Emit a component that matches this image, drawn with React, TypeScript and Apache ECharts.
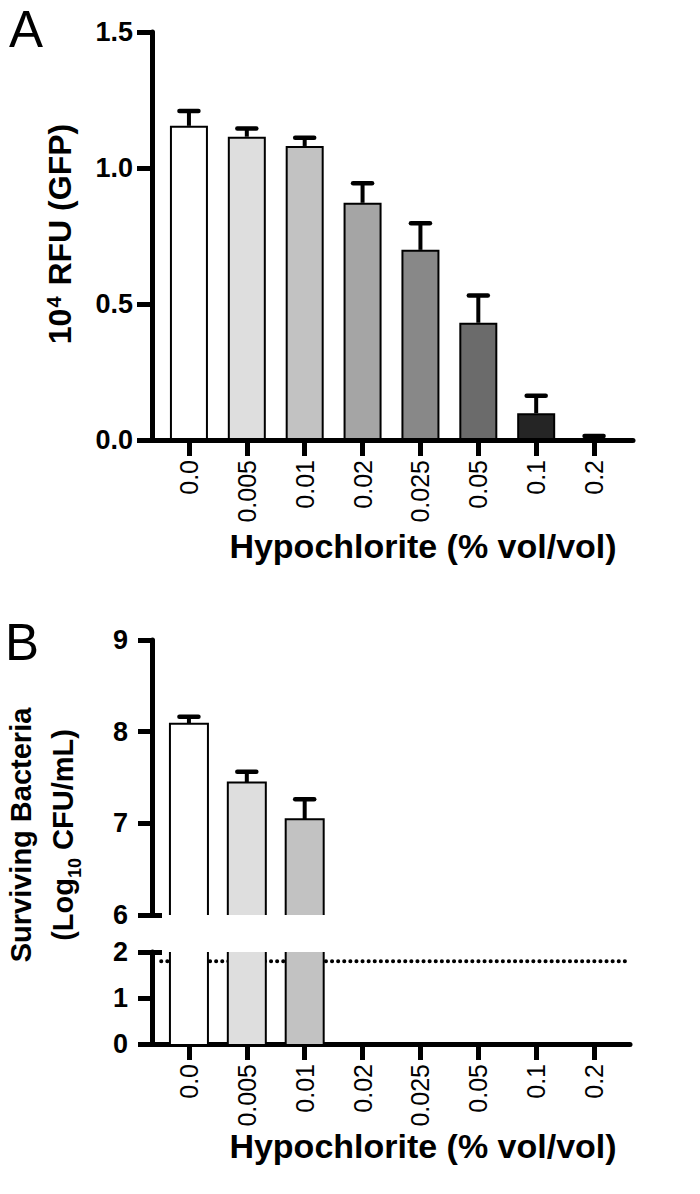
import React, { useEffect, useRef } from "react";
import * as echarts from "echarts";

// ---------- data ----------
const categories = ["0.0", "0.005", "0.01", "0.02", "0.025", "0.05", "0.1", "0.2"];
const gfpMean = [1.155, 1.115, 1.081, 0.872, 0.699, 0.431, 0.098, 0.004];
const gfpErr = [0.055, 0.03, 0.03, 0.072, 0.098, 0.1, 0.065, 0.011];
const cfuMean: (number | null)[] = [8.087, 7.446, 7.044, null, null, null, null, null];
const cfuErr: (number | null)[] = [0.075, 0.117, 0.22, null, null, null, null, null];
const detectionLimit = 1.8;
const barColors = ["#ffffff", "#dedede", "#c2c2c2", "#a5a5a5", "#888888", "#6b6b6b", "#252525", "#111111"];
const gfpAxis = { min: 0, max: 1.5, interval: 0.5 };
const cfuUpperAxis = { min: 6, max: 9, interval: 1 };
const cfuLowerAxis = { min: 0, max: 2, interval: 1 };

const FONT = "'Liberation Sans', Arial, Helvetica, sans-serif";
const BAR_HALF = 19;

const errorBarItem = (params: any, api: any) => {
  const i = api.value(0);
  const m = api.value(1);
  const e = api.value(2);
  const base = api.coord([i, m]);
  const top = api.coord([i, m + e]);
  return {
    type: "group",
    children: [
      { type: "line", shape: { x1: base[0], y1: base[1], x2: top[0], y2: top[1] }, style: { stroke: "#000", lineWidth: 4 } },
      {
        type: "line",
        shape: { x1: top[0] - 9.5, y1: top[1], x2: top[0] + 9.5, y2: top[1] },
        style: { stroke: "#000", lineWidth: 4.5, lineCap: "round" },
      },
    ],
  };
};

// bar of a broken axis segment: open where it crosses the segment's edge
const segmentBarItem = (lo: number, hi: number) => (params: any, api: any) => {
  const i = api.value(0);
  const v = api.value(1);
  const idx = params.dataIndex;
  const vTop = Math.min(v, hi);
  const pTop = api.coord([i, vTop]);
  const pBot = api.coord([i, lo]);
  const x0 = pTop[0] - BAR_HALF;
  const x1 = pTop[0] + BAR_HALF;
  const children: any[] = [
    {
      type: "rect",
      shape: { x: x0, y: pTop[1], width: BAR_HALF * 2, height: pBot[1] - pTop[1] },
      style: { fill: barColors[i] ?? barColors[idx], stroke: "none" },
    },
  ];
  if (v <= hi) {
    children.push({
      type: "polyline",
      shape: { points: [[x0, pBot[1]], [x0, pTop[1]], [x1, pTop[1]], [x1, pBot[1]]] },
      style: { stroke: "#000", lineWidth: 2, fill: "none" },
    });
  } else {
    children.push(
      { type: "line", shape: { x1: x0, y1: pTop[1], x2: x0, y2: pBot[1] }, style: { stroke: "#000", lineWidth: 2 } },
      { type: "line", shape: { x1: x1, y1: pTop[1], x2: x1, y2: pBot[1] }, style: { stroke: "#000", lineWidth: 2 } }
    );
  }
  return { type: "group", children };
};

const catAxisShown = (gridIndex: number) => ({
  type: "category",
  gridIndex,
  data: categories,
  boundaryGap: true,
  axisLine: { show: false },
  axisTick: { show: true, alignWithLabel: true, length: 16, lineStyle: { color: "#000", width: 5 } },
  axisLabel: { interval: 0, rotate: 90, margin: 20, fontSize: 25, color: "#000", fontFamily: FONT },
  splitLine: { show: false },
});

const frameXAxis = (gridIndex: number) => ({
  type: "value",
  gridIndex,
  min: 0,
  max: 1,
  axisLine: { show: true, onZero: false, lineStyle: { color: "#000", width: 5 } },
  axisTick: { show: false },
  axisLabel: { show: false },
  splitLine: { show: false },
});

const valueY = (gridIndex: number, r: any, fmt: (v: number) => string, margin: number, tickLen: number) => ({
  type: "value",
  gridIndex,
  position: "left",
  min: r.min,
  max: r.max,
  interval: r.interval,
  offset: 8,
  axisLine: { show: true, onZero: false, lineStyle: { color: "#000", width: 5 } },
  axisTick: { show: true, length: tickLen, lineStyle: { color: "#000", width: 5 } },
  axisLabel: { formatter: fmt, margin, fontSize: 27, fontWeight: "bold", color: "#000", fontFamily: FONT },
  splitLine: { show: false },
});

const breakTickY = (gridIndex: number, r: any, at: number) => ({
  type: "value",
  gridIndex,
  position: "left",
  min: r.min,
  max: r.max,
  offset: 8,
  axisLine: { show: false },
  axisTick: { show: true, inside: true, length: 10, customValues: [at], lineStyle: { color: "#000", width: 5 } },
  axisLabel: { show: false },
  splitLine: { show: false },
});

export default function App() {
  const ref = useRef<HTMLDivElement>(null);
  useEffect(() => {
    if (!ref.current) return;
    const chart = echarts.init(ref.current, undefined, { renderer: "svg" });
    const cfuValid = cfuMean
      .map((m, i) => (m == null ? null : [i, m, cfuErr[i]]))
      .filter((d) => d != null) as number[][];

    chart.setOption({
      animation: false,
      backgroundColor: "#ffffff",
      textStyle: { fontFamily: FONT },
      grid: [
        { left: 160, width: 463, top: 32, height: 408 },
        { left: 150, width: 483, top: 32, height: 408 },
        { left: 160, width: 463, top: 640, height: 275 },
        { left: 160, width: 463, top: 952, height: 92 },
        { left: 150, width: 480, top: 952, height: 92 },
      ],
      xAxis: [
        catAxisShown(0),
        frameXAxis(1),
        { type: "category", gridIndex: 2, data: categories, show: false },
        catAxisShown(3),
        frameXAxis(4),
      ],
      yAxis: [
        valueY(0, gfpAxis, (v: number) => v.toFixed(1), 19, 15),
        { type: "value", gridIndex: 1, min: 0, max: 1, show: false, splitLine: { show: false } },
        valueY(2, cfuUpperAxis, (v: number) => String(v), 24, 14),
        valueY(3, cfuLowerAxis, (v: number) => String(v), 24, 14),
        { type: "value", gridIndex: 4, min: 0, max: 2, show: false, splitLine: { show: false } },
        breakTickY(2, cfuUpperAxis, cfuUpperAxis.min),
        breakTickY(3, cfuLowerAxis, cfuLowerAxis.max),
      ],
      series: [
        {
          type: "bar",
          xAxisIndex: 0,
          yAxisIndex: 0,
          barWidth: 38,
          z: 3,
          data: gfpMean.map((v, i) => ({ value: v, itemStyle: { color: barColors[i] } })),
          itemStyle: { borderColor: "#000", borderWidth: 2 },
        },
        {
          type: "custom",
          xAxisIndex: 0,
          yAxisIndex: 0,
          z: 4,
          renderItem: errorBarItem,
          encode: { x: 0, y: 1 },
          data: gfpMean.map((m, i) => [i, m, gfpErr[i]]),
        },
        {
          type: "line",
          xAxisIndex: 4,
          yAxisIndex: 4,
          z: 1,
          showSymbol: false,
          symbol: "none",
          lineStyle: { color: "#000", width: 4, type: [0.1, 6], dashOffset: -4, cap: "round" },
          data: [
            [0.015, detectionLimit],
            [1, detectionLimit],
          ],
        },
        {
          type: "custom",
          xAxisIndex: 2,
          yAxisIndex: 2,
          z: 3,
          renderItem: segmentBarItem(cfuUpperAxis.min, cfuUpperAxis.max),
          encode: { x: 0, y: 1 },
          data: cfuValid.map((d) => [d[0], d[1]]),
        },
        {
          type: "custom",
          xAxisIndex: 2,
          yAxisIndex: 2,
          z: 4,
          renderItem: errorBarItem,
          encode: { x: 0, y: 1 },
          data: cfuValid,
        },
        {
          type: "custom",
          xAxisIndex: 3,
          yAxisIndex: 3,
          z: 3,
          renderItem: segmentBarItem(cfuLowerAxis.min, cfuLowerAxis.max),
          encode: { x: 0, y: 1 },
          data: cfuValid.map((d) => [d[0], d[1]]),
        },
      ],
      graphic: [
        {
          type: "text",
          x: 9,
          y: 29,
          style: { text: "A", fontSize: 51, fontFamily: FONT, fill: "#000", align: "left", verticalAlign: "middle", textAlign: "left", textVerticalAlign: "middle" },
        },
        {
          type: "text",
          x: 5,
          y: 642,
          style: { text: "B", fontSize: 51, fontFamily: FONT, fill: "#000", align: "left", verticalAlign: "middle", textAlign: "left", textVerticalAlign: "middle" },
        },
        {
          type: "text",
          x: 423,
          y: 546,
          style: { text: "Hypochlorite (% vol/vol)", fontSize: 34, fontWeight: "bold", fontFamily: FONT, fill: "#000", align: "center", verticalAlign: "middle", textAlign: "center", textVerticalAlign: "middle" },
        },
        {
          type: "text",
          x: 423,
          y: 1146,
          style: { text: "Hypochlorite (% vol/vol)", fontSize: 34, fontWeight: "bold", fontFamily: FONT, fill: "#000", align: "center", verticalAlign: "middle", textAlign: "center", textVerticalAlign: "middle" },
        },
        {
          type: "text",
          x: 60,
          y: 234,
          rotation: Math.PI / 2,
          style: {
            text: "10{sup|4} RFU (GFP)",
            fontSize: 32,
            fontWeight: "bold",
            fontFamily: FONT,
            fill: "#000",
            align: "center",
            verticalAlign: "middle",
            textAlign: "center",
            textVerticalAlign: "middle",
            rich: {
              sup: { fontSize: 20, fontWeight: "bold", fontFamily: FONT, fill: "#000", verticalAlign: "top", padding: [0, 2, 0, 1] },
            },
          },
        },
        {
          type: "text",
          x: 42,
          y: 835,
          rotation: Math.PI / 2,
          style: {
            text: "{t|Surviving Bacteria}\n{t|(Log}{sub|10}{t| CFU/mL)}",
            fontSize: 29,
            fontWeight: "bold",
            fontFamily: FONT,
            fill: "#000",
            align: "center",
            verticalAlign: "middle",
            textAlign: "center",
            textVerticalAlign: "middle",
            rich: {
              t: { fontSize: 29, fontWeight: "bold", fontFamily: FONT, fill: "#000", lineHeight: 42 },
              sub: { fontSize: 18, fontWeight: "bold", fontFamily: FONT, fill: "#000", lineHeight: 42, verticalAlign: "bottom" },
            },
          },
        },
      ],
    });
    return () => chart.dispose();
  }, []);
  return (
    <div
      ref={ref}
      style={{ position: "absolute", left: 0, top: 0, width: 700, height: 1194, background: "#fff" }}
    />
  );
}
